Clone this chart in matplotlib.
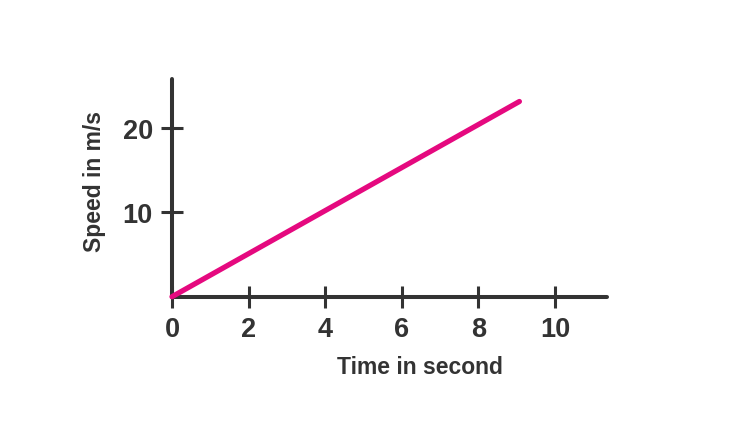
import matplotlib
matplotlib.use("Agg")
import matplotlib.pyplot as plt

# speed vs time, straight line from the origin
time = [0, 9.07]
speed = [0, 23.1]
xticks = [0, 2, 4, 6, 8, 10]
yticks = [10, 20]

plt.rcParams['font.family'] = ['Liberation Sans', 'DejaVu Sans']
dark = '#333333'
pink = '#e5097f'

W, H = 751, 435
fig = plt.figure(figsize=(W/100, H/100), dpi=100)
x0, y0 = 172, 297.7
px_x, px_y = 38.3, 8.45
xmax, ymax = 11.35, 25.8
ax = fig.add_axes([x0/W, (H-y0)/H, xmax*px_x/W, ymax*px_y/H])

ax.plot(time, speed, color=pink, lw=3.8, solid_capstyle='round', zorder=5, clip_on=False)

ax.set_xlim(0, xmax)
ax.set_ylim(0, ymax)
for s in ['top', 'right']:
    ax.spines[s].set_visible(False)
for s in ['left', 'bottom']:
    ax.spines[s].set_linewidth(2.9)
    ax.spines[s].set_color(dark)
    ax.spines[s].set_capstyle('round')

ax.set_xticks(xticks)
ax.set_yticks(yticks)
ax.tick_params(direction='inout', length=15.5, width=2.2, color=dark,
               labelsize=19.5, labelcolor=dark, pad=6)
for lab in ax.get_xticklabels() + ax.get_yticklabels():
    lab.set_fontweight('bold')

fig.text(420/W, 1-368/H, 'Time in second', ha='center', va='center',
         fontsize=16.5, fontweight='bold', color=dark)
fig.text(95/W, 1-182/H, 'Speed in m/s', ha='center', va='center', rotation=90,
         fontsize=16.5, fontweight='bold', color=dark)

fig.savefig('out.png', dpi=100)
